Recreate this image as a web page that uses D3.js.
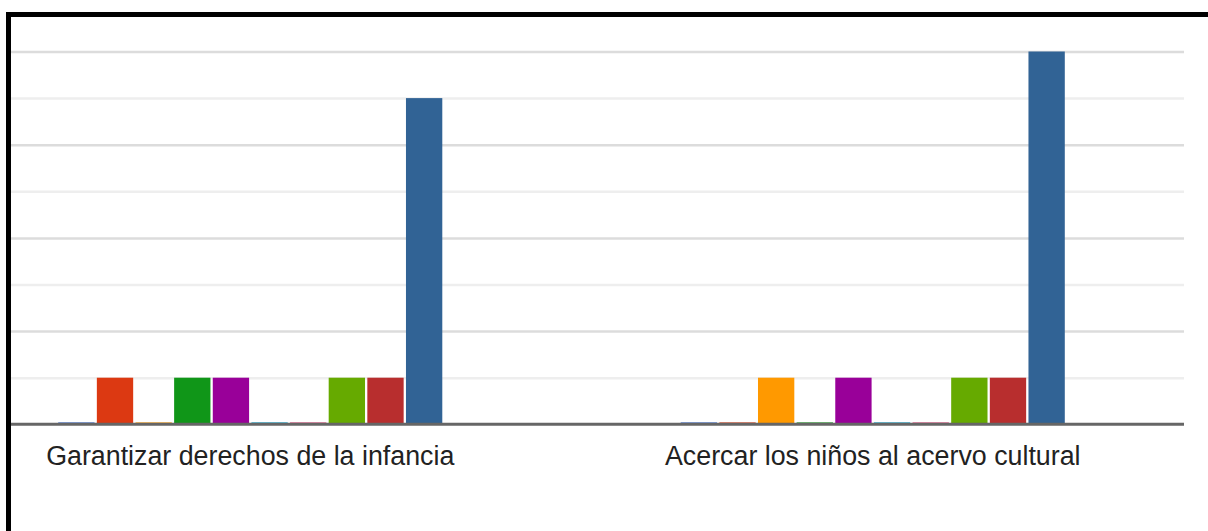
<!DOCTYPE html>
<html>
<head>
<meta charset="utf-8">
<script src="https://cdn.jsdelivr.net/npm/d3@7"></script>
<style>
  body { margin: 0; background: #fff; overflow: hidden; }
</style>
</head>
<body>
<script>
// chart data
var categories = ["Garantizar derechos de la infancia", "Acercar los niños al acervo cultural"];
var seriesNames = ["S1", "S2", "S3", "S4", "S5", "S6", "S7", "S8", "S9", "S10"];
var s1 = [0, 0], s2 = [1, 0], s3 = [0, 1], s4 = [1, 0], s5 = [1, 1],
    s6 = [0, 0], s7 = [0, 0], s8 = [1, 1], s9 = [1, 1], s10 = [7, 8];
var seriesValues = [s1, s2, s3, s4, s5, s6, s7, s8, s9, s10];
var colors = ["#3366cc", "#dc3912", "#ff9900", "#109618", "#990099",
              "#0099c6", "#dd4477", "#66aa00", "#b82e2e", "#316395"];
var gridTicks = [1, 2, 3, 4, 5, 6, 7, 8];

var W = 1208, H = 531;

// the chart area is wider than the visible frame (left part is cut off)
var x0 = d3.scaleBand()
    .domain(categories)
    .range([-61, 1184]);
var groupW = x0.bandwidth() * 0.617;
var x1 = d3.scaleBand()
    .domain(seriesNames)
    .range([0, groupW])
    .paddingInner(0.06);
var y = d3.scaleLinear()
    .domain([0, 8])
    .range([424.3, 51.5]);

var svg = d3.select("body").append("svg")
    .attr("width", W)
    .attr("height", H);

svg.append("clipPath").attr("id", "frame")
    .append("rect").attr("x", 11).attr("y", 17).attr("width", W).attr("height", H);

var g = svg.append("g").attr("clip-path", "url(#frame)");

// gridlines
g.append("g")
    .attr("transform", "translate(-61,0)")
    .call(d3.axisLeft(y).tickValues(gridTicks).tickSize(-1245).tickFormat(""))
    .call(function(a) {
        a.select(".domain").remove();
        a.selectAll(".tick line")
            .attr("stroke", function(d) { return d % 2 === 0 ? "#dcdcdc" : "#eeeeee"; })
            .attr("stroke-width", 2.5);
    });

// bars
var rows = categories.map(function(c, i) {
    return seriesNames.map(function(s, j) {
        return {cat: c, series: s, value: seriesValues[j][i], color: colors[j]};
    });
});

g.selectAll(".grp")
    .data(rows)
    .enter().append("g")
    .attr("class", "grp")
    .attr("transform", function(d) {
        return "translate(" + (x0(d[0].cat) + (x0.bandwidth() - groupW) / 2) + ",0)";
    })
    .selectAll("rect")
    .data(function(d) { return d; })
    .enter().append("rect")
    .attr("x", function(d) { return x1(d.series); })
    .attr("width", x1.bandwidth())
    .attr("y", function(d) { return Math.min(y(d.value), y(0) - 2.3); })
    .attr("height", function(d) { return y(0) - Math.min(y(d.value), y(0) - 2.3); })
    .attr("fill", function(d) { return d.color; })
    .attr("fill-opacity", function(d) { return d.value === 0 ? 0.6 : 1; });

// baseline
g.append("line")
    .attr("x1", -61).attr("x2", 1184)
    .attr("y1", y(0)).attr("y2", y(0))
    .attr("stroke", "#666")
    .attr("stroke-width", 3);

// category labels
g.append("g")
    .attr("transform", "translate(0," + y(0) + ")")
    .call(d3.axisBottom(x0).tickSize(0).tickPadding(41))
    .call(function(a) { a.select(".domain").remove(); })
    .selectAll("text")
    .attr("dy", 0)
    .style("font-family", "Arial, 'Liberation Sans', sans-serif")
    .style("font-size", "26.8px")
    .attr("fill", "#222");

// frame border
svg.append("rect")
    .attr("x", 8.5).attr("y", 14.5)
    .attr("width", 1400).attr("height", 700)
    .attr("fill", "none")
    .attr("stroke", "#000")
    .attr("stroke-width", 5);
</script>
</body>
</html>
